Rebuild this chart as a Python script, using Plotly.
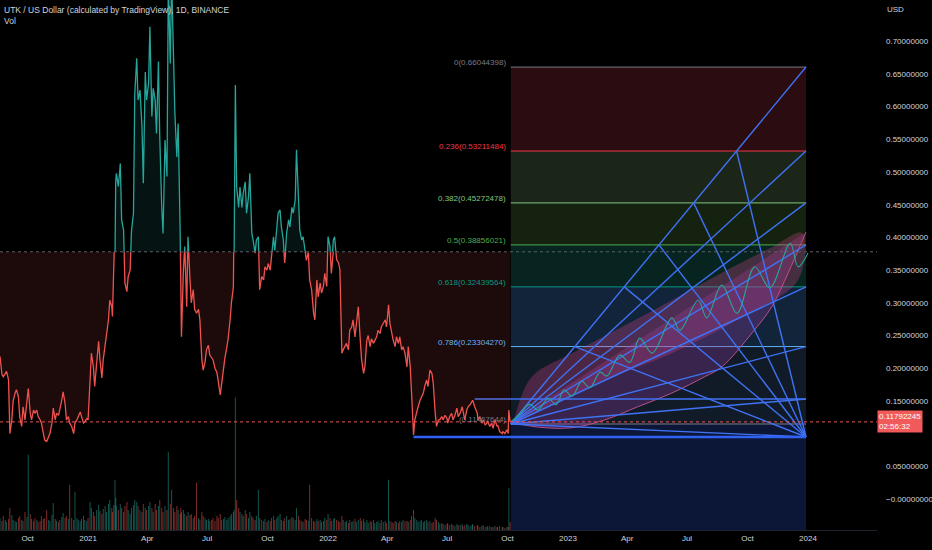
import pandas as pd
import plotly.graph_objects as go

START = pd.Timestamp("2020-08-20")

# (day offset from START, close)
close_pts = [
    (0, .218), (3, .190), (5, .187), (8, .192), (10, .195), (13, .182), (15, .100), (18, .121), (20, .150), (23, .162),
    (25, .167), (28, .156), (30, .126), (33, .111), (35, .141), (38, .121), (41, .146), (43, .169), (46, .131), (48, .121),
    (51, .136), (53, .131), (56, .136), (58, .126), (61, .121), (63, .116), (66, .100), (68, .090), (71, .088), (74, .095),
    (76, .100), (79, .116), (81, .139), (84, .121), (86, .131), (89, .128), (91, .136), (94, .151), (96, .164), (99, .146),
    (101, .121), (104, .126), (106, .116), (109, .111), (112, .100), (114, .116), (117, .121), (119, .126), (122, .133), (124, .126),
    (127, .116), (129, .118), (132, .123), (134, .121), (137, .172), (139, .223), (142, .202), (144, .172), (147, .207), (150, .241),
    (152, .213), (155, .185), (157, .213), (160, .233), (162, .248), (165, .274), (167, .304), (170, .294), (171, .279), (173, .325),
    (175, .376), (176, .485), (177, .498), (180, .478), (183, .513), (185, .427), (188, .411), (190, .330), (193, .317), (195, .340),
    (198, .350), (200, .410), (203, .437), (205, .620), (208, .674), (210, .610), (213, .625), (216, .569), (218, .483), (221, .653),
    (223, .610), (226, .636), (228, .722), (231, .585), (233, .628), (236, .610), (238, .559), (241, .669), (243, .554), (246, .447),
    (248, .406), (251, .549), (254, .493), (256, .790), (259, .666), (261, .800), (264, .671), (266, .590), (269, .523), (271, .574),
    (274, .411), (275, .300), (276, .248), (279, .350), (281, .386), (284, .294), (286, .401), (289, .335), (291, .300), (294, .320),
    (296, .290), (299, .284), (302, .290), (304, .274), (307, .213), (309, .197), (312, .210), (314, .228), (317, .235), (319, .220),
    (322, .215), (324, .213), (327, .200), (330, .193), (332, .180), (335, .159), (337, .175), (340, .202), (342, .215), (345, .232),
    (347, .245), (350, .274), (352, .300), (355, .324), (356, .360), (358, .633), (360, .477), (363, .446), (365, .477), (368, .446),
    (370, .468), (373, .485), (375, .437), (378, .462), (380, .498), (383, .407), (385, .396), (388, .376), (390, .396), (393, .401),
    (395, .320), (398, .340), (401, .335), (403, .355), (406, .350), (408, .360), (411, .350), (413, .370), (416, .401), (418, .380),
    (421, .422), (423, .437), (426, .442), (428, .416), (431, .396), (433, .361), (436, .407), (439, .427), (441, .416), (444, .446),
    (446, .437), (449, .457), (451, .534), (454, .457), (456, .411), (459, .396), (461, .401), (464, .380), (466, .365), (469, .377),
    (471, .335), (474, .320), (477, .284), (479, .274), (482, .335), (484, .309), (487, .330), (489, .315), (492, .325), (494, .345),
    (497, .325), (499, .401), (502, .386), (504, .345), (507, .396), (509, .401), (512, .366), (515, .361), (517, .351), (520, .223),
    (522, .228), (525, .233), (527, .238), (530, .228), (532, .258), (535, .263), (537, .274), (540, .248), (542, .269), (545, .294),
    (548, .243), (550, .213), (553, .192), (555, .202), (558, .243), (560, .250), (563, .233), (565, .245), (568, .238), (570, .243),
    (573, .248), (575, .258), (578, .253), (580, .263), (583, .269), (586, .274), (588, .263), (591, .297), (593, .269), (596, .253),
    (598, .243), (601, .233), (603, .248), (606, .238), (608, .248), (611, .228), (613, .233), (616, .223), (619, .202), (621, .233),
    (624, .202), (626, .162), (629, .098), (631, .121), (634, .136), (636, .141), (639, .151), (641, .156), (644, .162), (646, .172),
    (649, .182), (651, .172), (654, .197), (657, .192), (659, .177), (662, .131), (664, .111), (667, .121), (669, .121), (672, .126),
    (674, .121), (677, .128), (680, .123), (681, .116), (684, .126), (687, .131), (689, .121), (692, .128), (695, .139), (697, .126),
    (700, .131), (703, .141), (704, .136), (707, .121), (710, .136), (712, .141), (715, .144), (718, .149), (719, .151), (722, .141),
    (726, .131), (727, .121), (730, .126), (733, .116), (735, .121), (738, .113), (741, .116), (742, .118), (745, .111), (748, .116),
    (750, .108), (753, .121), (756, .111), (757, .113), (760, .103), (764, .100), (765, .103), (768, .100), (771, .106), (773, .100),
    (774, .136), (776, .118),
]

# volume per close point (millions)
volume = [
    12, 9, 14, 10, 8, 11, 22, 15, 10, 9,
    8, 12, 14, 10, 9, 18, 13, 75, 16, 11,
    9, 12, 10, 8, 9, 14, 11, 12, 20, 10,
    9, 15, 27, 11, 9, 8, 10, 13, 17, 12,
    14, 11, 45, 12, 10, 38, 12, 10, 9, 11,
    14, 10, 9, 12, 28, 22, 18, 14, 20, 25,
    19, 16, 21, 24, 18, 26, 30, 22, 18, 25,
    50, 32, 24, 20, 26, 22, 18, 24, 28, 20,
    16, 22, 25, 30, 28, 24, 20, 18, 26, 22,
    20, 24, 28, 22, 18, 26, 20, 24, 30, 22,
    18, 24, 20, 78, 26, 40, 22, 18, 24, 20,
    16, 22, 18, 20, 16, 14, 18, 15, 16, 12,
    14, 47, 12, 10, 18, 14, 12, 10, 11, 9,
    10, 12, 9, 14, 12, 16, 10, 11, 13, 10,
    12, 14, 16, 18, 20, 132, 30, 22, 18, 16,
    14, 20, 16, 12, 18, 14, 12, 10, 14, 40,
    12, 10, 9, 11, 8, 10, 9, 12, 14, 10,
    12, 14, 16, 10, 9, 12, 14, 10, 11, 13,
    12, 10, 22, 14, 10, 9, 8, 11, 10, 9,
    45, 12, 9, 8, 11, 9, 10, 8, 9, 12,
    10, 16, 12, 9, 11, 12, 10, 9, 8, 14,
    10, 8, 9, 7, 10, 8, 9, 11, 8, 10,
    12, 9, 11, 8, 10, 7, 9, 8, 10, 7,
    8, 9, 7, 10, 8, 9, 7, 50, 9, 8,
    7, 9, 8, 7, 9, 8, 10, 9, 9, 8,
    10, 14, 20, 12, 10, 8, 9, 10, 8, 9,
    10, 8, 9, 7, 8, 12, 10, 8, 6, 7,
    6, 5, 6, 7, 5, 6, 5, 4, 6, 5,
    5, 6, 4, 5, 6, 5, 4, 5, 6, 4,
    5, 4, 3, 4, 5, 3, 4, 3, 4, 3,
    3, 4, 3, 3, 4, 3, 3, 2, 3, 3,
    42, 8,
]

BASELINE = 0.378
last_price = 0.11792245
countdown = "02:56:32"

# fib retracement drawing
fib_labels = ["0(0.66044398)", "0.236(0.53211484)", "0.382(0.45272478)", "0.5(0.38856021)",
              "0.618(0.32439564)", "0.786(0.23304270)", "(0.11467644)"]
fib_prices = [0.66044398, 0.53211484, 0.45272478, 0.38856021, 0.32439564, 0.23304270, 0.11467644]
fib_start_day = 777
fib_end_day = 1226
swing_low = 0.0948
swing_low_day = 629
range_top = 0.153
range_top_day = 722

fan_a_targets = [0.66044398, 0.53211484, 0.45272478, 0.38856021, 0.32439564, 0.23304270, 0.153, 0.0948]
fan_b_levels = [0.53211484, 0.45272478, 0.38856021, 0.32439564, 0.23304270]

# projected path drawing
path_days = [777, 791, 806, 818, 834, 846, 858, 870, 885, 897, 913, 923, 943, 958,
             973, 992, 1022, 1034, 1062, 1075, 1098, 1121, 1148, 1171, 1202, 1214, 1229]
path_prices = [0.118, 0.130, 0.145, 0.136, 0.154, 0.144, 0.167, 0.157, 0.180, 0.170, 0.194, 0.188, 0.220, 0.209,
               0.246, 0.223, 0.277, 0.258, 0.304, 0.277, 0.327, 0.284, 0.355, 0.323, 0.391, 0.355, 0.376]
cloud_days = [783, 809, 870, 946, 1022, 1098, 1174, 1220, 1214, 1122, 1022, 920, 809, 783]
cloud_prices = [0.125, 0.187, 0.223, 0.263, 0.304, 0.346, 0.385, 0.407, 0.335, 0.274, 0.223, 0.182, 0.131, 0.121]
arc_days = [777, 818, 870, 920, 970, 1022, 1072, 1098, 1144, 1174, 1199, 1226]
arc_prices = [0.1177, 0.110, 0.109, 0.121, 0.141, 0.162, 0.187, 0.202, 0.254, 0.294, 0.346, 0.408]

x_tick_dates = ["2020-10-01", "2021-01-01", "2021-04-01", "2021-07-01", "2021-10-01", "2022-01-01", "2022-04-01",
                "2022-07-01", "2022-10-01", "2023-01-01", "2023-04-01", "2023-07-01", "2023-10-01", "2024-01-01"]
x_tick_text = ["Oct", "2021", "Apr", "Jul", "Oct", "2022", "Apr", "Jul", "Oct", "2023", "Apr", "Jul", "Oct", "2024"]
y_tick_vals = [0.70, 0.65, 0.60, 0.55, 0.50, 0.45, 0.40, 0.35, 0.30, 0.25, 0.20, 0.15, 0.05, 0.0]
y_tick_text = ["0.70000000", "0.65000000", "0.60000000", "0.55000000", "0.50000000", "0.45000000", "0.40000000",
               "0.35000000", "0.30000000", "0.25000000", "0.20000000", "0.15000000", "0.05000000", "\u22120.00000000"]


def day(d):
    return START + pd.Timedelta(days=d)


dates = [day(d) for d, _ in close_pts]
closes = [c for _, c in close_pts]

Y_MIN, Y_MAX = -0.0474, 0.763
split = (BASELINE - Y_MIN) / (Y_MAX - Y_MIN)
FONT = "Liberation Sans, Arial, sans-serif"
TXT = "#d1d4dc"
FAN = "#3f72f5"

fig = go.Figure()

# volume
vol_colors = ["rgba(38,166,154,0.5)"]
for i in range(1, len(closes)):
    vol_colors.append("rgba(38,166,154,0.5)" if closes[i] >= closes[i - 1] else "rgba(239,83,80,0.5)")
fig.add_trace(go.Bar(x=dates, y=volume, marker=dict(color=vol_colors, line=dict(width=0)),
                     width=1.6 * 86400000, yaxis="y4", hoverinfo="skip"))

# baseline chart: upper half (teal) and lower half (red), clipped by their own axis domains
base = [BASELINE] * len(dates)
fig.add_trace(go.Scatter(x=dates, y=base, yaxis="y2", mode="lines", line=dict(width=0), hoverinfo="skip"))
fig.add_trace(go.Scatter(x=dates, y=closes, yaxis="y2", mode="lines", line=dict(color="#26a69a", width=1.3),
                         fill="tonexty", fillcolor="rgba(38,166,154,0.12)"))
fig.add_trace(go.Scatter(x=dates, y=base, yaxis="y3", mode="lines", line=dict(width=0), hoverinfo="skip"))
fig.add_trace(go.Scatter(x=dates, y=closes, yaxis="y3", mode="lines", line=dict(color="#ef5350", width=1.3),
                         fill="tonexty", fillcolor="rgba(239,83,80,0.12)"))

# fib retracement zones
fs, fe = day(fib_start_day), day(fib_end_day)
zone_colors = ["#2a0c11", "#1b2618", "#14220f", "#072420", "#12243a", "#111b27"]
line_colors = ["#787b86", "#f23645", "#81c784", "#4caf50", "#089981", "#64b5f6", "#787b86"]
shapes = []
for i in range(len(fib_prices) - 1):
    shapes.append(dict(type="rect", xref="x", yref="y", x0=fs, x1=fe, y0=fib_prices[i + 1], y1=fib_prices[i],
                       fillcolor=zone_colors[i], line=dict(width=0), layer="below"))
shapes.append(dict(type="rect", xref="x", yref="y", x0=fs, x1=fe, y0=-0.2, y1=fib_prices[-1],
                   fillcolor="#0c1737", line=dict(width=0), layer="below"))
for p, c in zip(fib_prices, line_colors):
    shapes.append(dict(type="line", xref="x", yref="y", x0=fs, x1=fe, y0=p, y1=p,
                       line=dict(color=c, width=1), layer="below"))
# baseline and last price dotted lines
shapes.append(dict(type="line", xref="paper", yref="y", x0=0, x1=1, y0=BASELINE, y1=BASELINE,
                   line=dict(color="#5d606b", width=1, dash="dot")))
shapes.append(dict(type="line", xref="paper", yref="y", x0=0, x1=1, y0=last_price, y1=last_price,
                   line=dict(color="#ef5350", width=1, dash="dot")))

# arc and projected cloud
fig.add_trace(go.Scatter(x=[day(d) for d in arc_days], y=arc_prices, mode="lines", fill="toself",
                         fillcolor="rgba(150,60,165,0.30)", line=dict(color="#b8508a", width=1, shape="spline")))
fig.add_trace(go.Scatter(x=[day(d) for d in cloud_days], y=cloud_prices, mode="lines", fill="toself",
                         fillcolor="rgba(215,70,140,0.30)", line=dict(width=0, shape="spline")))

# fan lines
fx, fy = [], []
for t in fan_a_targets:
    fx += [fs, fe, None]
    fy += [fib_prices[-1], t, None]
for lv in fan_b_levels:
    d = fib_start_day + (lv - fib_prices[-1]) / (fib_prices[0] - fib_prices[-1]) * (fib_end_day - fib_start_day)
    fx += [fe, day(d), None]
    fy += [swing_low, lv, None]
fig.add_trace(go.Scatter(x=fx, y=fy, mode="lines", line=dict(color=FAN, width=1.4), hoverinfo="skip"))
fig.add_trace(go.Scatter(x=[day(swing_low_day), fe], y=[swing_low, swing_low], mode="lines",
                         line=dict(color="#2f62f2", width=2.5)))
fig.add_trace(go.Scatter(x=[day(range_top_day), fe], y=[range_top, range_top], mode="lines",
                         line=dict(color=FAN, width=1.4)))

# projected wave
fig.add_trace(go.Scatter(x=[day(d) for d in path_days], y=path_prices, mode="lines",
                         line=dict(color="#26a69a", width=1.1, shape="spline")))

annotations = []
for lab, p, c in zip(fib_labels, fib_prices, line_colors):
    annotations.append(dict(x=fs, y=p, xref="x", yref="y", text=lab, showarrow=False, xanchor="right",
                            yanchor="bottom", xshift=-3, yshift=-2, font=dict(color=c, size=8, family=FONT)))
annotations.append(dict(x=0, y=1, xref="paper", yref="paper", xanchor="left", yanchor="top", xshift=2, yshift=-3,
                        text="UTK / US Dollar (calculated by TradingView), 1D, BINANCE<br>Vol", align="left",
                        showarrow=False, font=dict(color=TXT, size=8.5, family=FONT)))
annotations.append(dict(x=1, y=1, xref="paper", yref="paper", xanchor="left", yanchor="top", xshift=8, yshift=-3,
                        text="USD", showarrow=False, font=dict(color=TXT, size=8, family=FONT)))
annotations.append(dict(x=1, y=last_price, xref="paper", yref="y", xanchor="left", yanchor="middle",
                        text=f"{last_price:.8f}<br>{countdown}", align="left", showarrow=False, bgcolor="#f05a5a",
                        borderpad=1, font=dict(color="#ffffff", size=8, family=FONT)))

fig.update_layout(
    width=932, height=550,
    margin=dict(l=0, r=55, t=0, b=20),
    paper_bgcolor="#000000", plot_bgcolor="rgba(0,0,0,0)",
    showlegend=False, barmode="overlay",
    shapes=shapes, annotations=annotations,
    font=dict(family=FONT, color=TXT, size=8),
    xaxis=dict(type="date", range=[day(0), day(1334)], domain=[0, 1], anchor="y",
               tickvals=x_tick_dates, ticktext=x_tick_text, showgrid=False, zeroline=False,
               showline=True, linecolor="#1e222d", ticks="", tickfont=dict(color=TXT, size=8)),
    yaxis=dict(domain=[0, 1], range=[Y_MIN, Y_MAX], side="right", anchor="x",
               tickvals=y_tick_vals, ticktext=y_tick_text, showgrid=False, zeroline=False,
               ticks="", ticklabelstandoff=8, tickfont=dict(color=TXT, size=8)),
    yaxis2=dict(domain=[split, 1], range=[BASELINE, Y_MAX], anchor="x", visible=False),
    yaxis3=dict(domain=[0, split], range=[Y_MIN, BASELINE], anchor="x", visible=False),
    yaxis4=dict(overlaying="y", range=[0, max(volume) / 0.25], visible=False),
)

# page body without the default margin so the chart fills the window
fig.write_html("out.html", config={"displayModeBar": False},
               post_script="document.body.style.margin='0';document.body.style.background='#000';")
